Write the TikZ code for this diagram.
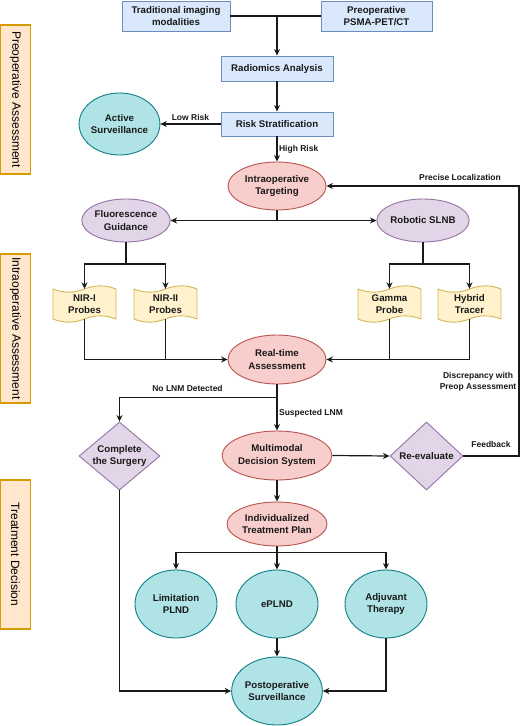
\documentclass[tikz,border=0pt]{standalone}
\usepackage{fontspec}
\setmainfont{Liberation Sans}
\usetikzlibrary{shapes.geometric,arrows.meta}
\definecolor{bfill}{HTML}{DAE8FC}\definecolor{bline}{HTML}{6C8EBF}
\definecolor{rfill}{HTML}{F8CECC}\definecolor{rline}{HTML}{B85450}
\definecolor{pfill}{HTML}{E1D5E7}\definecolor{pline}{HTML}{9673A6}
\definecolor{cfill}{HTML}{B0E3E6}\definecolor{cline}{HTML}{0E8088}
\definecolor{yfill}{HTML}{FFF2CC}\definecolor{yline}{HTML}{D6B656}
\definecolor{ofill}{HTML}{FFE6CC}\definecolor{oline}{HTML}{D79B00}
\tikzset{
  txt/.style={font=\fontsize{9.7}{12.3}\selectfont\bfseries, align=center, inner sep=0pt, text=black!90},
  bluebox/.style={txt, rectangle, draw=bline, fill=bfill, line width=0.9pt},
  redell/.style={txt, ellipse, draw=rline, fill=rfill, line width=0.9pt},
  purell/.style={txt, ellipse, draw=pline, fill=pfill, line width=0.9pt},
  cyanell/.style={txt, ellipse, draw=cline, fill=cfill, line width=0.9pt},
  purdia/.style={diamond, draw=pline, fill=pfill, line width=0.9pt, inner sep=0pt},
  tapestyle/.style={draw=yline, fill=yfill, line width=0.9pt},
  sidebox/.style={rectangle, draw=oline, fill=ofill, line width=1.2pt, font=\fontsize{12}{14}\selectfont, inner sep=0pt, minimum width=149pt, minimum height=30pt, rotate=-90},
  lbl/.style={font=\fontsize{8.5}{10.7}\selectfont\bfseries, align=center, inner sep=1.5pt, text=black!90},
  ln/.style={line width=1.2pt, black!90},
  arr/.style={ln, -{Stealth[length=6.5pt, width=6pt]}},
}
\newcommand\tapenode[4]{%
  \begin{scope}[shift={(#2-31.5,#3-18.5)}]
    \filldraw[tapestyle] (0,3.5) .. controls (10.5,7.7) and (21,7.7) .. (31.5,3.5)
      .. controls (42,-0.7) and (52.5,-0.7) .. (63,3.5) -- (63,33.5)
      .. controls (52.5,29.3) and (42,29.3) .. (31.5,33.5)
      .. controls (21,37.7) and (10.5,37.7) .. (0,33.5) -- cycle;
  \end{scope}
  \node[txt, minimum width=63pt, minimum height=30pt] (#1) at (#2,#3) {#4};
}
\begin{document}
\begin{tikzpicture}[x=1pt,y=-1pt]
\useasboundingbox (0,0) rectangle (520,726);
\fill[white] (0,0) rectangle (520,726);

% side boxes
\node[sidebox] (s1) at (15.5,99.5) {Preoperative Assessment};
\node[sidebox] (s2) at (15.5,328.5) {Intraoperative Assessment};
\node[sidebox] (s3) at (15.5,554.5) {Treatment Decision};

% nodes
\node[bluebox, minimum width=108pt, minimum height=30pt] (trad) at (176,16) {Traditional imaging\\modalities};
\node[bluebox, minimum width=111pt, minimum height=30pt] (psma) at (376.5,16) {Preoperative\\PSMA-PET/CT};
\node[bluebox, minimum width=112pt, minimum height=25pt] (radio) at (277,68.5) {Radiomics Analysis};
\node[bluebox, minimum width=112pt, minimum height=24pt] (risk) at (277,124) {Risk Stratification};
\node[cyanell, minimum width=62pt, minimum height=62pt] (active) at (119.5,124) {Active\\Surveillance};
\node[redell, minimum width=98pt, minimum height=48pt] (target) at (277,186) {Intraoperative\\Targeting};
\node[purell, minimum width=82pt, minimum height=43pt] (fluor) at (126,220.5) {Fluorescence\\Guidance};
\node[purell, minimum width=80pt, minimum height=43pt] (robot) at (423,220.5) {Robotic SLNB};
\tapenode{nir1}{84.5}{304}{NIR-I\\Probes}
\tapenode{nir2}{165.5}{304}{NIR-II\\Probes}
\tapenode{gamma}{389.5}{304}{Gamma\\Probe}
\tapenode{hybrid}{469.5}{304}{Hybrid\\Tracer}
\node[redell, minimum width=98pt, minimum height=49pt] (realtime) at (277,359.5) {Real-time\\Assessment};
\node[purdia, minimum width=81pt, minimum height=68pt] (complete) at (119.5,456) {};
\node[txt] at (complete) {Complete\\the Surgery};
\node[redell, minimum width=98pt, minimum height=49pt] (multi) at (277,455.5) {Multimodal\\Decision System};
\node[purdia, minimum width=73pt, minimum height=68pt] (reeval) at (426.5,456) {};
\node[txt] at (reeval) {Re-evaluate};
\node[redell, minimum width=100pt, minimum height=44pt] (indiv) at (277,524) {Individualized\\Treatment Plan};
\node[cyanell, minimum width=82pt, minimum height=68pt] (limit) at (176,604) {Limitation\\PLND};
\node[cyanell, minimum width=82pt, minimum height=68pt] (eplnd) at (277,604) {ePLND};
\node[cyanell, minimum width=82pt, minimum height=68pt] (adjuv) at (386,604) {Adjuvant\\Therapy};
\node[cyanell, minimum width=82pt, minimum height=68pt] (postop) at (277,691) {Postoperative\\Surveillance};

% connectors
\coordinate (j1) at (277,16);
\draw[ln] (trad.east) -- (psma.west);
\draw[arr] (j1) -- (radio.north);
\draw[arr] (radio) -- (risk);
\draw[arr] (risk.west) -- (active.east) node[lbl, midway, above, yshift=1pt] {Low Risk};
\draw[arr] (risk.south) -- (target.north) node[lbl, midway, right] {High Risk};
\draw[arr] (target.south) |- (fluor.east);
\draw[arr] (target.south) |- (robot.west);
\draw[arr] (fluor.south) -- ++(0,21.5) -| (nir1.north);
\draw[arr] (fluor.south) -- ++(0,21.5) -| (nir2.north);
\draw[arr] (robot.south) -- ++(0,21.5) -| (gamma.north);
\draw[arr] (robot.south) -- ++(0,21.5) -| (hybrid.north);
\draw[arr] (nir1.south) |- (realtime.west);
\draw[ln] (nir2.south) -- (nir2.south |- realtime.west);
\draw[arr] (hybrid.south) |- (realtime.east);
\draw[ln] (gamma.south) -- (gamma.south |- realtime.east);
\draw[arr] (realtime.south) -- (multi.north) node[lbl, pos=0.62, right] {Suspected LNM};
\draw[arr] (realtime.south) -- ++(0,13) -| (complete.north);
\node[lbl] (nolnm) at (187.5,388) {No LNM Detected};
\draw[arr] (multi.east) -- (reeval.west);
\coordinate (fb) at (519,0);
\draw[arr] (reeval.east) -- (reeval.east -| fb) |- (target.east);
\node[lbl] (feedlbl) at (491,444) {Feedback};
\node[lbl, anchor=east] (disclbl) at (518,382) {Discrepancy with\\Preop Assessment};
\node[lbl] (preclbl) at (460,177) {Precise Localization};
\draw[arr] (multi) -- (indiv);
\draw[arr] (indiv.south) -- ++(0,6) -| (limit.north);
\draw[arr] (indiv.south) -- ++(0,6) -| (adjuv.north);
\draw[arr] (indiv.south) -- (eplnd.north);
\draw[arr] (eplnd) -- (postop);
\draw[arr] (complete.south) |- (postop.west);
\draw[arr] (adjuv.south) |- (postop.east);
\end{tikzpicture}
\end{document}
